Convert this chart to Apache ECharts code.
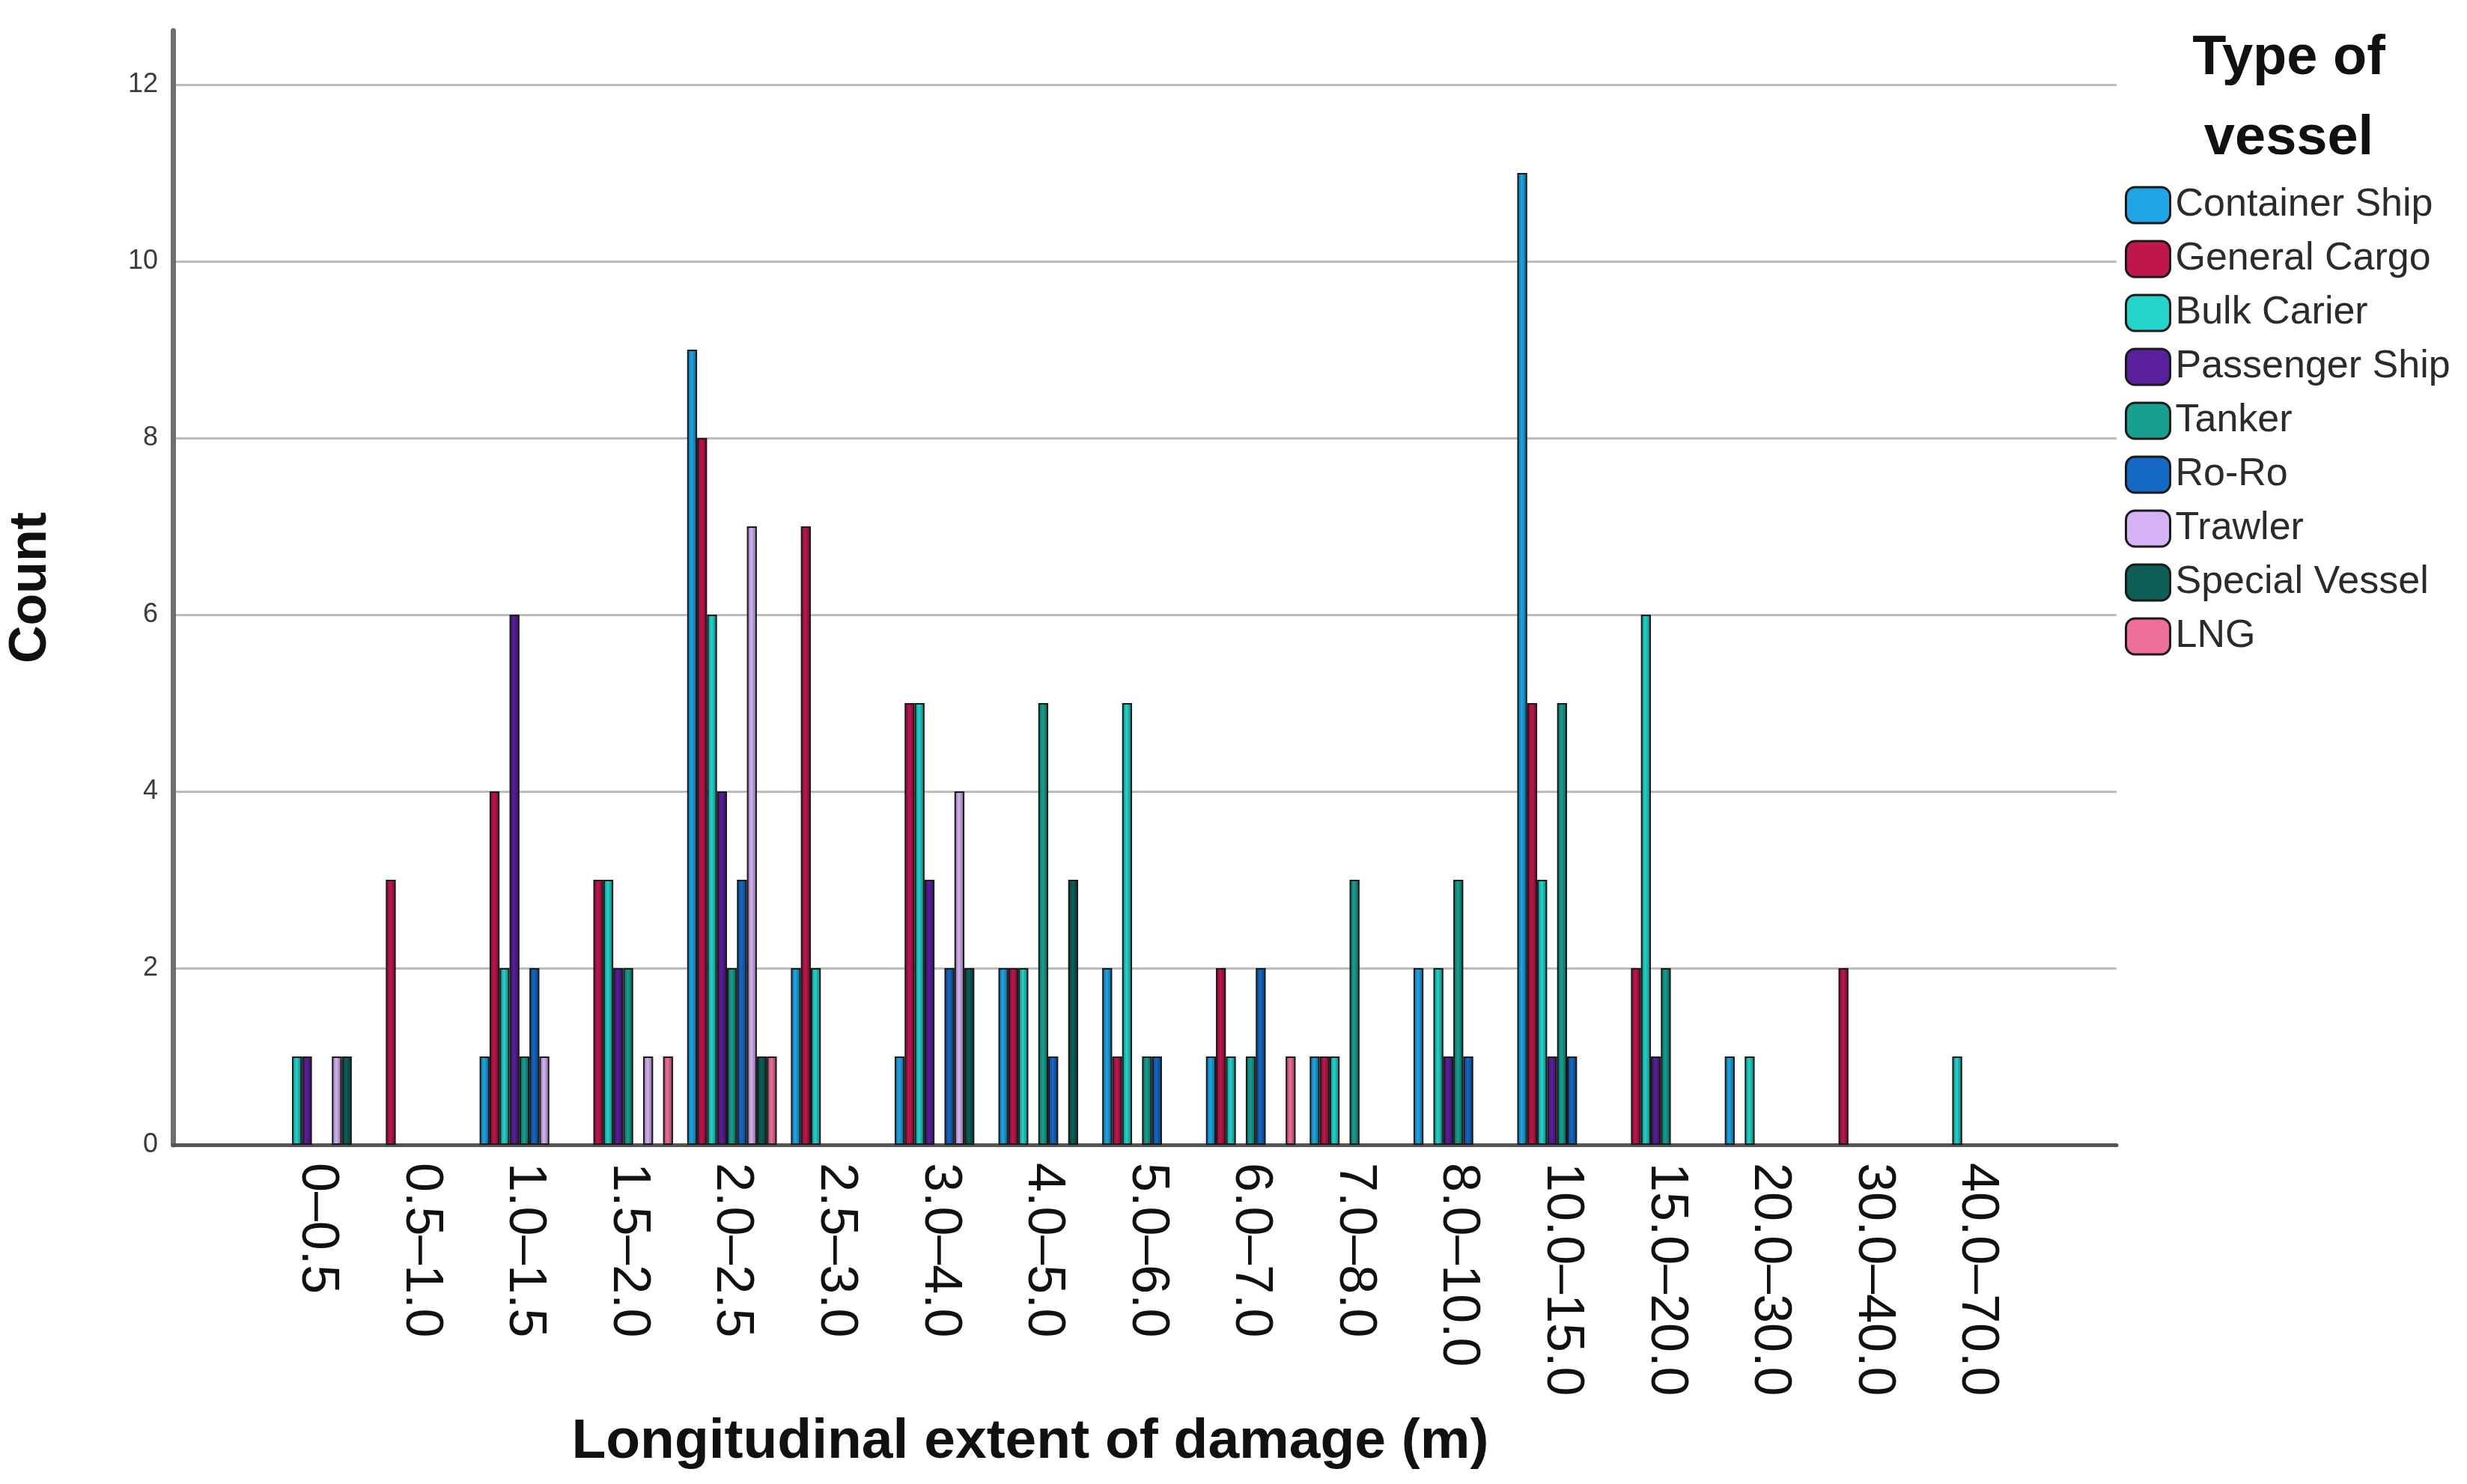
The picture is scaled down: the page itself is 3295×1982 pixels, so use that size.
<!DOCTYPE html>
<html>
<head>
<meta charset="utf-8">
<script src="https://cdn.jsdelivr.net/npm/echarts@6/dist/echarts.min.js"></script>
<style>
html,body{margin:0;padding:0;background:#fff;}
#chart{width:3295px;height:1982px;}
</style>
</head>
<body>
<div id="chart"></div>
<script>
const categories = ['0–0.5','0.5–1.0','1.0–1.5','1.5–2.0','2.0–2.5','2.5–3.0','3.0–4.0','4.0–5.0','5.0–6.0','6.0–7.0','7.0–8.0','8.0–10.0','10.0–15.0','15.0–20.0','20.0–30.0','30.0–40.0','40.0–70.0'];
const seriesNames = ['Container Ship','General Cargo','Bulk Carier','Passenger Ship','Tanker','Ro-Ro','Trawler','Special Vessel','LNG'];
const containerShip = [0,0,1,0,9,2,1,2,2,1,1,2,11,0,1,0,0];
const generalCargo  = [0,3,4,3,8,7,5,2,1,2,1,0,5,2,0,2,0];
const bulkCarier    = [1,0,2,3,6,2,5,2,5,1,1,2,3,6,1,0,1];
const passengerShip = [1,0,6,2,4,0,3,0,0,0,0,1,1,1,0,0,0];
const tanker        = [0,0,1,2,2,0,0,5,1,1,3,3,5,2,0,0,0];
const roRo          = [0,0,2,0,3,0,2,1,1,2,0,1,1,0,0,0,0];
const trawler       = [1,0,1,1,7,0,4,0,0,0,0,0,0,0,0,0,0];
const specialVessel = [1,0,0,0,1,0,2,3,0,0,0,0,0,0,0,0,0];
const lng           = [0,0,0,1,1,0,0,0,0,1,0,0,0,0,0,0,0];
const yTicks = [0,2,4,6,8,10,12];

const seriesValues = [containerShip,generalCargo,bulkCarier,passengerShip,tanker,roRo,trawler,specialVessel,lng];
const colors = ['#1fa6e6','#c0164c','#22d4cc','#5a1f9a','#17a090','#1668c6','#d6b3f4','#0e5e58','#f06e9a'];

function shade(hex, f){
  const n = parseInt(hex.slice(1),16);
  let r=(n>>16)&255,g=(n>>8)&255,b=n&255;
  r=Math.round(r*f);g=Math.round(g*f);b=Math.round(b*f);
  return 'rgb('+r+','+g+','+b+')';
}
function grad(c){
  return new echarts.graphic.LinearGradient(0,0,1,0,[
    {offset:0,color:shade(c,0.6)},
    {offset:0.45,color:c},
    {offset:1,color:shade(c,0.55)}
  ]);
}

const chart = echarts.init(document.getElementById('chart'), null, {renderer:'canvas'});
const yMax = 12.61;
const series = seriesNames.map((name,i)=>({
  name: name,
  type: 'bar',
  xAxisIndex: 1,
  yAxisIndex: 1,
  barGap: '0%',
  barCategoryGap: '13.6%',
  data: seriesValues[i].map(v => v === 0 ? null : v),
  itemStyle: {color: grad(colors[i]), borderColor:'#1a1a1a', borderWidth:2},
  emphasis: {disabled:true}
}));

chart.setOption({
  animation: false,
  backgroundColor: '#ffffff',
  color: colors,
  title: [
    {text:'Type of\nvessel', left:3052, top:20, textAlign:'center',
     textStyle:{fontFamily:'Liberation Sans', fontWeight:'bold', fontSize:74, lineHeight:107, color:'#111'}},
    {text:'Longitudinal extent of damage (m)', left:1371, top:1876, textAlign:'center',
     textStyle:{fontFamily:'Liberation Sans', fontWeight:'bold', fontSize:75, lineHeight:90, color:'#111'}}
  ],
  legend: {
    orient:'vertical', left:2833, top:243,
    itemWidth:59, itemHeight:48, itemGap:20,
    textStyle:{fontFamily:'Liberation Sans', fontSize:52, color:'#2b2b2b', padding:[0,0,0,2]},
    data: seriesNames.map((n,i)=>({name:n, itemStyle:{color:colors[i], borderColor:'#1a1a1a', borderWidth:3}}))
  },
  grid: [
    {left:231, right:468, top:41, bottom:453, containLabel:false, outerBoundsMode:'none'},
    {left:354, right:585, top:41, bottom:453, containLabel:false, outerBoundsMode:'none'}
  ],
  xAxis: [
    {type:'value', gridIndex:0, min:0, max:1, axisLine:{show:true, lineStyle:{color:'#555', width:5}},
     axisTick:{show:false}, axisLabel:{show:false}, splitLine:{show:false}},
    {type:'category', gridIndex:1, data:categories, axisLine:{show:false}, axisTick:{show:false},
     axisLabel:{rotate:-90, margin:24, fontFamily:'Liberation Sans', fontSize:70, color:'#111'},
     splitLine:{show:false}}
  ],
  yAxis: [
    {type:'value', gridIndex:0, min:0, max:yMax, interval:2,
     name:'Count', nameLocation:'middle', nameGap:154, nameRotate:90,
     nameTextStyle:{fontFamily:'Liberation Sans', fontWeight:'bold', fontSize:70, color:'#111'},
     axisLine:{show:true, lineStyle:{color:'#6e6e6e', width:7}},
     axisTick:{show:false},
     axisLabel:{margin:20, fontFamily:'Liberation Sans', fontSize:36, color:'#3c3c3c', showMaxLabel:false,
       formatter: v => yTicks.indexOf(v) >= 0 ? String(v) : ''},
     splitLine:{show:true, showMaxLine:false, lineStyle:{color:'#bcbcbc', width:3}}},
    {type:'value', gridIndex:1, min:0, max:yMax, interval:2, show:false, splitLine:{show:false}}
  ],
  series: series
});
</script>
</body>
</html>
